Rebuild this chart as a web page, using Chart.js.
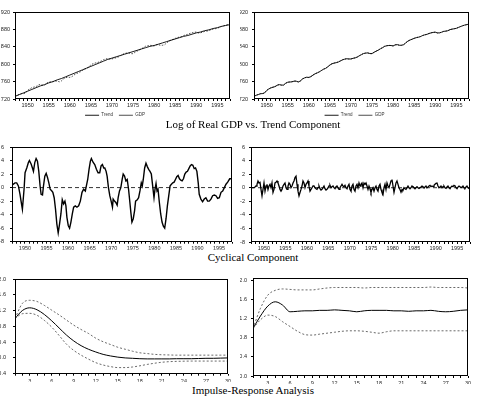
<!DOCTYPE html>
<html><head><meta charset="utf-8">
<script src="https://cdn.jsdelivr.net/npm/chart.js@4.4.1/dist/chart.umd.min.js"></script>
<style>
html,body{margin:0;padding:0;background:#fff;width:479px;height:410px;overflow:hidden;position:relative}
canvas{position:absolute}
.ttl{position:absolute;font-family:"Liberation Serif","Times New Roman",serif;font-size:11px;line-height:11px;color:#000;white-space:nowrap;transform:translateX(-50%)}
</style></head><body>
<canvas id="c1" width="236" height="128" style="left:0;top:0"></canvas>
<canvas id="c2" width="235" height="128" style="left:240px;top:0"></canvas>
<canvas id="c3" width="238" height="116" style="left:0;top:135px"></canvas>
<canvas id="c4" width="236" height="115" style="left:240px;top:135px"></canvas>
<canvas id="c5" width="234" height="116" style="left:0;top:268px"></canvas>
<canvas id="c6" width="234" height="116" style="left:240px;top:268px"></canvas>
<div class="ttl" style="left:253px;top:118.5px">Log of Real GDP vs. Trend Component</div>
<div class="ttl" style="left:253px;top:252px">Cyclical Component</div>
<div class="ttl" style="left:253px;top:385.3px">Impulse-Response Analysis</div>
<script>
// ---------- DATA ----------
const YEAR_START = 1947, YEAR_END = 1998;
// Panel 1: smooth trend, yearly
const trend1 = [726,730,734,738,742,746,750,753,757,760,764,767,771,775,779,783,787,791,795,799,
  803,807,811,814,817,820,823,826,829,832,835,838,841,843,846,849,852,855,858,861,
  864,866,869,872,874,877,879,882,884,887,889,891];
// GDP, half-yearly from 1947.0 to 1998.0
const gdp = [726.4,728.6, 730.7,732.2, 732.4,733.5, 740.0,743.1, 746.0,747.4, 748.5,752.1, 753.4,751.9,
  751.9,756.2, 759.0,759.3, 759.7,761.2, 761.3,759.5, 761.5,766.2, 768.7,770.3, 769.6,771.4, 775.2,778.2,
  780.1,782.4, 785.5,788.6, 790.5,794.0, 798.2,801.2, 802.6,803.8, 805.2,807.7, 810.3,811.9, 812.8,811.9,
  812.0,813.7, 814.8,816.5, 819.6,822.5, 824.8,825.6, 825.8,824.2, 824.2,827.6, 830.2,832.5, 835.6,838.1,
  841.5,842.4, 843.4,842.9, 841.9,844.6, 844.8,843.5, 843.5,844.9, 849.2,853.1, 855.5,857.3, 859.3,861.3,
  862.2,863.6, 865.9,867.3, 868.8,870.8, 872.2,873.4, 873.8,871.8, 872.1,873.7, 875.4,876.0, 877.2,879.3,
  880.9,881.6, 882.5,884.8, 886.7,888.4, 889.8,891.3, 892.3];
// Panel 2: permanent (trend) component, half-yearly
const trend2 = [726,728.5, 730,732, 732.5,734, 739.5,743, 745.5,747, 748.5,751.5, 753,752,
  752,756, 758.5,759, 759.5,761, 761,759, 761.5,766, 768.5,770, 769.5,771.5, 775,778,
  780,782.5, 785.5,788.5, 790.5,794, 798,801, 802.5,803.5, 805,807.5, 810,811.5, 812.5,812,
  812,813.5, 814.5,816.5, 819.5,822, 824.5,825.5, 826,824.5, 824.5,827.5, 830,832.5, 835.5,838,
  841,842.5, 843,843, 842,844.5, 845,843.5, 843.5,845, 849,853, 855.5,857.5, 859.5,861,
  862,863.5, 866,867.5, 868.5,870.5, 872,873, 873.5,872, 872,873.5, 875.5,876, 877,879.5,
  880.5,881.5, 882.5,884.5, 886.5,888.5, 890,891, 892.5];
// Panel 3: cyclical component
const cycleYears = [1947.0,1947.70,1948.09,1948.48,1948.86,1949.10,1949.41,1949.80,1950.03,1950.42,
  1950.80,1951.04,1951.43,1951.74,1951.97,1952.28,1952.59,1952.90,1953.21,1953.52,
  1953.75,1954.07,1954.30,1954.61,1954.92,1955.23,1955.54,1955.85,1956.24,1956.47,
  1956.78,1957.09,1957.40,1957.71,1958.02,1958.34,1958.65,1958.96,1959.27,1959.50,
  1959.73,1960.04,1960.35,1960.66,1960.98,1961.29,1961.67,1962.06,1962.45,1962.84,
  1963.23,1963.61,1964.00,1964.24,1964.55,1964.86,1965.17,1965.40,1965.79,1966.18,
  1966.57,1966.95,1967.34,1967.65,1967.96,1968.27,1968.51,1968.82,1969.05,1969.36,
  1969.67,1969.98,1970.29,1970.45,1970.76,1971.07,1971.38,1971.61,1971.92,1972.23,
  1972.54,1972.78,1973.09,1973.40,1973.71,1974.02,1974.33,1974.56,1974.80,1975.11,
  1975.42,1975.65,1976.04,1976.35,1976.66,1976.97,1977.20,1977.43,1977.75,1978.06,
  1978.37,1978.68,1978.99,1979.30,1979.61,1979.92,1980.15,1980.39,1980.62,1980.85,
  1981.16,1981.47,1981.78,1982.09,1982.40,1982.71,1983.02,1983.34,1983.65,1983.96,
  1984.27,1984.58,1984.89,1985.20,1985.51,1985.82,1986.13,1986.44,1986.75,1987.06,
  1987.37,1987.68,1987.99,1988.30,1988.61,1988.93,1989.24,1989.55,1989.86,1990.17,
  1990.40,1990.79,1991.18,1991.57,1991.95,1992.34,1992.73,1993.12,1993.51,1993.89,
  1994.28,1994.67,1995.06,1995.45,1995.84,1996.23,1996.61,1997.00,1997.47,1997.78,1998.0];
const cycleValues = [0.35,0.7,0.7,0.25,-1.0,-2.0,-3.2,-0.2,2.2,2.9,
  3.7,4.0,3.5,2.9,2.4,3.7,4.3,3.9,2.4,0.2,
  -1.0,-1.1,0.25,1.7,2.1,1.5,0.7,-0.25,-0.5,-0.7,
  -1.5,-3.2,-5.4,-6.7,-5.4,-3.9,-1.8,-2.4,-2.0,-2.7,
  -4.4,-5.6,-6.0,-5.1,-3.9,-2.9,-2.7,-2.9,-2.7,-2.0,
  -0.7,-0.25,-0.5,0.25,1.2,2.7,3.9,4.3,3.75,3.4,
  2.7,2.2,2.2,3.2,3.4,2.9,2.9,2.4,1.7,0,
  -1.2,-2.0,-2.9,-1.7,-2.0,-2.2,-2.6,-1.5,-0.5,0,
  1.2,2.0,1.7,1.0,1.2,-0.25,-2.2,-3.7,-5.1,-4.6,
  -3.4,-2.0,-1.8,-1.5,-0.5,0.7,0.25,1.2,2.9,3.6,
  3.1,2.7,2.4,2.0,0.25,-1.5,-0.25,0.6,-0.5,-0.25,
  -2.2,-3.9,-5.1,-5.7,-6.0,-4.6,-2.7,-1.2,0.25,0.5,
  0.7,0.8,1.2,1.6,1.8,1.3,1.1,1.0,1.3,2.0,
  2.3,2.4,2.8,3.2,3.4,3.3,2.8,2.9,2.4,0.7,
  -1.0,-1.7,-2.1,-1.7,-1.5,-2.0,-2.0,-1.7,-1.2,-1.1,
  -1.2,-1.6,-1.5,-0.7,-0.5,0,0.5,0.8,1.3,1.3,1.4];
// Panel 4: transitory component, evenly sampled across the period
const cycle2 = [0,0,0,0,0.1,0.25,0.5,1.0,0.7,0.8,
  -0.25,-1.2,-0.25,0.7,-0.5,0.25,0.5,-0.25,0.25,0.5,
  0,0.7,-0.7,-0.25,0.7,0.8,1.0,0.7,0.25,-0.25,
  -0.5,-0.25,0.25,0.5,0.7,0,-0.25,0.25,0.7,0.5,
  0,0.25,0.7,1.0,1.5,1.7,0.5,-0.5,-1.2,-0.7,
  -0.25,0.25,1.0,0.7,0,0.5,0.7,1.0,0.25,-0.5,
  -0.25,0,0.25,0.25,0,-0.15,-0.25,0,0.25,-0.15,
  -0.35,-0.25,0,0.25,-0.15,-0.35,-0.25,0,0.25,0.35,
  0,0.15,0.25,0,-0.15,0.15,0.25,0,-0.25,0,
  0.25,0.5,0.25,0.15,0.35,0,-0.15,0.25,0.5,-0.25,
  -0.5,0.25,0.5,-0.25,-0.5,0.25,0.5,0,0.7,0.25,
  0.5,0.7,0,0.7,0.5,0.7,0.25,-0.25,0.25,-0.15,
  -0.7,-0.25,0,-0.5,0,0.25,-0.25,-0.5,0.25,0.5,
  -0.25,-0.7,-1.0,0,0.5,-0.25,0.7,0.25,0,0.5,
  1.0,1.2,0.25,-0.7,0,0.7,1.0,0.5,0,-0.25,
  -0.65,-0.25,-0.35,0,-0.15,-0.25,0,0.25,0,-0.15,
  0,0.25,0.15,0,-0.15,0,0.15,0,-0.1,0,
  0.1,0.25,0.15,0,0.1,0.25,0,0.1,0.25,0.35,
  0.15,0.25,0.15,0.35,0.5,0.65,0.7,0.25,0,0.1,
  0.25,0,0.15,0.25,0,-0.1,0.1,0.25,0,-0.15,
  0.1,0.25,0.15,0.35,0.25,0,-0.15,0.1,0.25,0.15,
  0,0.1,0.25,0,-0.1,0.1,0.25,0,-0.1,0];
const zeroLevel = 0;
// Panels 5-6: impulse responses, periods 1..30
const PERIOD_START = 1, PERIOD_END = 30;
const irf1 = [1.00,1.20,1.27,1.22,1.10,0.94,0.76,0.58,0.43,0.31,0.22,0.15,0.09,0.05,0.02,0.00,-0.01,-0.02,-0.025,-0.025,
  -0.025,-0.025,-0.02,-0.02,-0.02,-0.015,-0.01,-0.01,-0.005,0.00];
const irf1Upper = [1.00,1.38,1.46,1.43,1.33,1.21,1.09,0.96,0.83,0.72,0.62,0.50,0.41,0.34,0.27,0.22,0.17,0.13,0.11,0.09,
  0.08,0.075,0.07,0.07,0.07,0.07,0.07,0.07,0.07,0.07];
const irf1Lower = [1.00,1.12,1.13,1.08,0.95,0.78,0.57,0.35,0.19,0.07,-0.03,-0.12,-0.18,-0.22,-0.245,-0.245,-0.23,-0.20,-0.165,-0.135,
  -0.11,-0.095,-0.088,-0.083,-0.08,-0.08,-0.08,-0.08,-0.08,-0.08];
const irf2 = [1.00,1.26,1.47,1.56,1.49,1.35,1.36,1.37,1.37,1.38,1.38,1.39,1.38,1.37,1.35,1.37,1.38,1.38,1.38,1.37,
  1.37,1.36,1.37,1.37,1.38,1.36,1.35,1.36,1.38,1.39];
const irf2Upper = [1.00,1.42,1.70,1.80,1.83,1.82,1.81,1.81,1.81,1.83,1.85,1.86,1.86,1.86,1.86,1.85,1.86,1.86,1.86,1.86,
  1.86,1.86,1.86,1.86,1.87,1.86,1.86,1.86,1.86,1.85];
const irf2Lower = [1.00,1.18,1.28,1.25,1.14,1.04,0.94,0.87,0.86,0.88,0.90,0.92,0.94,0.95,0.95,0.94,0.92,0.90,0.93,0.95,
  0.95,0.95,0.95,0.95,0.95,0.95,0.95,0.95,0.95,0.95];

// ---------- DATES ----------
const years = []; for (let y = YEAR_START; y <= YEAR_END; y++) years.push(y);
const halfYears = gdp.map((_, i) => YEAR_START + i / 2);
const cycle2Dates = cycle2.map((_, i) => YEAR_START + i * (YEAR_END - YEAR_START) / (cycle2.length - 1));
const periods = irf1.map((_, i) => PERIOD_START + i);

const pts = (xs, ys) => ys.map((v, i) => ({x: xs[i], y: v}));

// ---------- STYLE ----------
Chart.defaults.font.family = "'Liberation Sans', Arial, sans-serif";
Chart.defaults.font.size = 5.5;
Chart.defaults.color = '#222';

const framePlugin = {
  id: 'frame',
  afterDatasetsDraw(chart) {
    const {ctx, chartArea: a} = chart;
    ctx.save();
    ctx.strokeStyle = '#000'; ctx.lineWidth = 1;
    ctx.strokeRect(Math.round(a.left) + 0.5, Math.round(a.top) + 0.5,
      Math.round(a.right - a.left) - 1, Math.round(a.bottom - a.top) - 1);
    ctx.restore();
  }
};

function xTime() {
  return {type: 'linear', min: YEAR_START, max: YEAR_END,
    afterFit: s => { s.height = 8; },
    ticks: {stepSize: 1, autoSkip: false, maxRotation: 0, minRotation: 0, padding: 1, includeBounds: false,
      callback: v => (v % 5 === 0 ? String(v) : '')},
    grid: {drawOnChartArea: false, tickLength: 2, color: '#000'}, border: {display: false}};
}
function xPeriod() {
  return {type: 'linear', min: PERIOD_START, max: PERIOD_END,
    afterFit: s => { s.height = 8; },
    ticks: {stepSize: 1, autoSkip: false, maxRotation: 0, minRotation: 0, padding: 2.5, includeBounds: false,
      callback: v => (v % 3 === 0 ? String(v) : '')},
    grid: {drawOnChartArea: false, tickLength: 2, color: '#000'}, border: {display: false}};
}
function yAxis(min, max, step, width, pad, dec) {
  return {type: 'linear', min, max, afterFit: s => { s.width = width; },
    ticks: {stepSize: step, padding: pad, includeBounds: false, callback: v => Number(v).toFixed(dec)},
    grid: {drawOnChartArea: false, tickLength: 2, color: '#000'}, border: {display: false}};
}
function opts(x, y, pad, legend) {
  return {responsive: false, animation: false, devicePixelRatio: 1,
    layout: {padding: pad},
    plugins: {tooltip: {enabled: false},
      legend: legend ? {display: true, position: 'bottom',
        labels: {usePointStyle: true, pointStyle: 'line', pointStyleWidth: 14, font: {size: 4.5}, padding: 6, color: '#333'}}
        : {display: false}},
    elements: {point: {radius: 0}, line: {tension: 0}},
    scales: {x, y}};
}
function line(label, data, o) {
  return Object.assign({label, data, borderColor: '#000', backgroundColor: '#000', borderWidth: 1, fill: false, pointRadius: 0}, o || {});
}

// Panel 1
new Chart(document.getElementById('c1'), {type: 'line', plugins: [framePlugin],
  data: {datasets: [
    line('Trend', pts(years, trend1), {borderWidth: 0.9}),
    line('GDP', pts(halfYears, gdp), {borderWidth: 0.8, borderDash: [1.5, 1.5], borderColor: '#222'})]},
  options: opts(xTime(), yAxis(720, 920, 40, 15, 3, 0), {top: 12, right: 6, bottom: 0.5, left: 0}, true)});
// Panel 2
new Chart(document.getElementById('c2'), {type: 'line', plugins: [framePlugin],
  data: {datasets: [
    line('Trend', pts(halfYears, trend2), {borderWidth: 0.9}),
    line('GDP', pts(halfYears, gdp), {borderWidth: 0.8, borderDash: [1.5, 1.5], borderColor: '#222'})]},
  options: opts(xTime(), yAxis(720, 920, 40, 14, 4, 0), {top: 12, right: 6, bottom: 0.5, left: 0}, true)});
// Panel 3
new Chart(document.getElementById('c3'), {type: 'line', plugins: [framePlugin],
  data: {datasets: [
    line('zero', [{x: YEAR_START, y: zeroLevel}, {x: YEAR_END, y: zeroLevel}], {borderWidth: 0.8, borderDash: [4, 3]}),
    line('Cycle', pts(cycleYears, cycleValues), {borderWidth: 1.4})]},
  options: opts(xTime(), yAxis(-8, 6, 2, 12, 6, 0), {top: 12, right: 6, bottom: 0, left: 0}, false)});
// Panel 4
new Chart(document.getElementById('c4'), {type: 'line', plugins: [framePlugin],
  data: {datasets: [
    line('zero', [{x: YEAR_START, y: zeroLevel}, {x: YEAR_END, y: zeroLevel}], {borderWidth: 0.8, borderDash: [4, 3]}),
    line('Cycle', pts(cycle2Dates, cycle2), {borderWidth: 1.3})]},
  options: opts(xTime(), yAxis(-8, 6, 2, 11, 4, 0), {top: 12, right: 6, bottom: 0, left: 0}, false)});
// Panel 5
new Chart(document.getElementById('c5'), {type: 'line', plugins: [framePlugin],
  data: {datasets: [
    line('Upper', pts(periods, irf1Upper), {borderWidth: 0.8, borderDash: [2, 2], borderColor: '#444', cubicInterpolationMode: 'monotone'}),
    line('Lower', pts(periods, irf1Lower), {borderWidth: 0.8, borderDash: [2, 2], borderColor: '#444', cubicInterpolationMode: 'monotone'}),
    line('Response', pts(periods, irf1), {borderWidth: 1, cubicInterpolationMode: 'monotone'})]},
  options: opts(xPeriod(), yAxis(-0.4, 2.0, 0.4, 15, 7, 1), {top: 11, right: 6, bottom: 0, left: 0}, false)});
// Panel 6
new Chart(document.getElementById('c6'), {type: 'line', plugins: [framePlugin],
  data: {datasets: [
    line('Upper', pts(periods, irf2Upper), {borderWidth: 0.8, borderDash: [2, 2], borderColor: '#444', cubicInterpolationMode: 'monotone'}),
    line('Lower', pts(periods, irf2Lower), {borderWidth: 0.8, borderDash: [2, 2], borderColor: '#444', cubicInterpolationMode: 'monotone'}),
    line('Response', pts(periods, irf2), {borderWidth: 1, cubicInterpolationMode: 'monotone'})]},
  options: opts(xPeriod(), yAxis(0, 2.06, 0.4, 13, 4, 1), {top: 10, right: 6, bottom: 0, left: 0}, false)});
</script>
</body></html>
